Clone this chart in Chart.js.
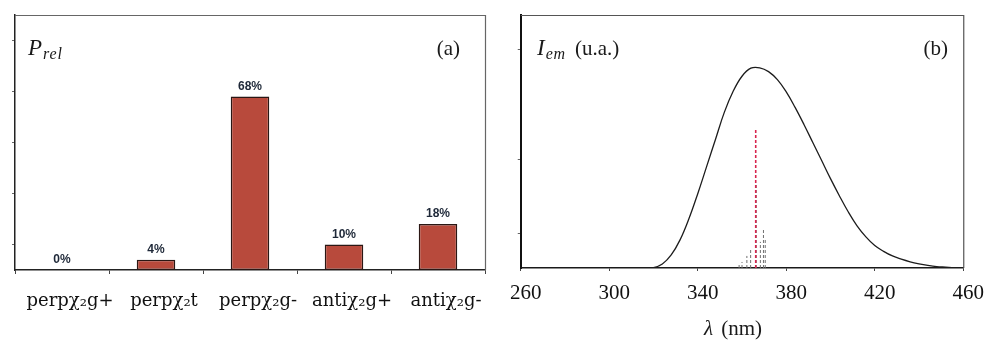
<!DOCTYPE html>
<html>
<head>
<meta charset="utf-8">
<script src="https://cdn.jsdelivr.net/npm/chart.js@4.4.0/dist/chart.umd.min.js"></script>
<style>
  html, body { margin: 0; padding: 0; background: #fff; }
  #wrap { position: relative; width: 989px; height: 340px; overflow: hidden; }
  #cA { position: absolute; left: 0; top: 0; }
  #cB { position: absolute; left: 495px; top: 0; }
</style>
</head>
<body>
<div id="wrap">
  <canvas id="cA" width="495" height="340"></canvas>
  <canvas id="cB" width="494" height="340"></canvas>
</div>
<script>
// (a) relative population of each conformer, in %
const conformers = ['perpχ₂g+', 'perpχ₂t', 'perpχ₂g-', 'antiχ₂g+', 'antiχ₂g-'];
const populations = [0, 4, 68, 10, 18];
const popTicks = [10, 30, 50, 70, 90];

// (b) emission band: wavelength (nm) and intensity (arbitrary units, peak = 1)
const wavelengths = [304, 308, 312, 316, 320, 324, 328, 332, 336, 340, 344, 348, 352, 356, 360, 364,
                     368, 372, 376, 380, 384, 388, 392, 396, 400, 404, 408, 412, 416, 420, 424,
                     428, 432, 436, 440, 444, 448, 452, 456, 460];
const intensity = [0, 0, 0, 0, 0.002, 0.02, 0.065, 0.14, 0.245, 0.37, 0.505, 0.64, 0.775, 0.88, 0.955, 0.995,
                   0.997, 0.978, 0.938, 0.877, 0.80, 0.715, 0.625, 0.535, 0.445, 0.36, 0.28, 0.21, 0.155, 0.112, 0.083,
                   0.06, 0.044, 0.031, 0.021, 0.013, 0.007, 0.004, 0.001, 0];
// computed transitions (stick spectrum); the first one is the dominant conformer
const stickWl = [366.2, 366.4, 370.5, 369.7, 368.3, 363.9, 362.2, 360.0, 358.7];
const stickHeight = [0.69, 0.42, 0.14, 0.19, 0.13, 0.09, 0.06, 0.03, 0.015];
const intensityTicks = [0.174, 0.542, 1.09];

const SERIF = '"Liberation Serif", "DejaVu Serif", serif';

// draws the top and right edges of the plot box
function framePlugin(color) {
  return {
    id: 'frame',
    afterDraw(chart) {
      const { ctx, chartArea: a } = chart;
      ctx.save();
      ctx.strokeStyle = color;
      ctx.lineWidth = 1.2;
      ctx.beginPath();
      ctx.moveTo(a.left, a.top + 0.5);
      ctx.lineTo(a.right + 0.5, a.top + 0.5);
      ctx.lineTo(a.right + 0.5, a.bottom);
      ctx.stroke();
      ctx.restore();
    }
  };
}

// quantity name with italic symbol and subscript, plus panel letter
function panelText(symbol, sub, rest, letter, x, letterRight) {
  return {
    id: 'panelText',
    afterDraw(chart) {
      const ctx = chart.ctx;
      ctx.save();
      ctx.fillStyle = '#1a1a1a';
      ctx.textBaseline = 'alphabetic';
      ctx.textAlign = 'left';
      ctx.font = 'italic 23px ' + SERIF;
      ctx.fillText(symbol, x, 55);
      let cx = x + ctx.measureText(symbol).width + 1;
      ctx.font = 'italic 16px ' + SERIF;
      ctx.letterSpacing = '0.8px';
      ctx.fillText(sub, cx, 59);
      cx += ctx.measureText(sub).width;
      ctx.letterSpacing = '0px';
      if (rest) {
        ctx.font = '21px ' + SERIF;
        ctx.fillText(rest, cx + 9, 55);
      }
      ctx.font = '21px ' + SERIF;
      ctx.textAlign = 'right';
      ctx.fillText(letter, letterRight, 55);
      ctx.restore();
    }
  };
}

// percentage printed above each bar
const barValueLabels = {
  id: 'barValueLabels',
  afterDatasetsDraw(chart) {
    const ctx = chart.ctx;
    const meta = chart.getDatasetMeta(0);
    ctx.save();
    ctx.font = 'bold 12px "Liberation Sans", Arial, sans-serif';
    ctx.fillStyle = '#1e2838';
    ctx.textAlign = 'center';
    ctx.textBaseline = 'alphabetic';
    meta.data.forEach((bar, i) => {
      ctx.fillText(populations[i] + '%', bar.x, bar.y - 7);
    });
    ctx.restore();
  }
};

// x-axis title with italic lambda
const lambdaTitle = {
  id: 'lambdaTitle',
  afterDraw(chart) {
    const ctx = chart.ctx;
    const cx = 238, y = 335;
    ctx.save();
    ctx.fillStyle = '#1a1a1a';
    ctx.textBaseline = 'alphabetic';
    ctx.textAlign = 'left';
    ctx.font = 'italic 21px ' + SERIF;
    const w1 = ctx.measureText('λ').width;
    ctx.font = '21px ' + SERIF;
    const w2 = ctx.measureText(' (nm)').width + 3;
    let x = cx - (w1 + w2) / 2;
    ctx.font = 'italic 21px ' + SERIF;
    ctx.fillText('λ', x, y);
    ctx.font = '21px ' + SERIF;
    ctx.fillText(' (nm)', x + w1 + 3, y);
    ctx.restore();
  }
};

Chart.defaults.animation = false;

new Chart(document.getElementById('cA'), {
  type: 'bar',
  data: {
    labels: conformers,
    datasets: [{
      data: populations,
      backgroundColor: '#b84a3c',
      borderColor: '#2a1714',
      borderWidth: 1.5,
      borderSkipped: false,
      categoryPercentage: 1.0,
      barPercentage: 0.41
    }]
  },
  options: {
    responsive: false,
    devicePixelRatio: 1,
    layout: { padding: { left: 0, right: 10, top: 15, bottom: 0 } },
    plugins: { legend: { display: false }, tooltip: { enabled: false } },
    scales: {
      x: {
        offset: true,
        grid: { drawOnChartArea: false, offset: true, tickLength: 4, color: '#444' },
        border: { color: '#222', width: 1.5 },
        ticks: {
          font: { family: 'DejaVu Serif', size: 18 },
          color: '#111',
          padding: 17,
          labelOffset: 8,
          maxRotation: 0,
          autoSkip: false
        },
        afterFit(s) { s.height = 70; }
      },
      y: {
        min: 0,
        max: 100,
        afterBuildTicks(s) { s.ticks = popTicks.map(v => ({ value: v })); },
        ticks: { display: false },
        grid: { drawOnChartArea: false, tickLength: 3, color: '#666' },
        border: { color: '#222', width: 1.5 },
        afterFit(s) { s.width = 15; }
      }
    }
  },
  plugins: [barValueLabels, framePlugin('#666'), panelText('P', 'rel', '', '(a)', 28, 460)]
});

const stickSets = stickWl.map((wl, i) => ({
  type: 'line',
  data: [{ x: wl, y: 0 }, { x: wl, y: stickHeight[i] }],
  borderColor: i === 0 ? '#d8244e' : '#707070',
  borderWidth: i === 0 ? 1.6 : 1,
  borderDash: [3, 2],
  pointRadius: 0
}));

new Chart(document.getElementById('cB'), {
  type: 'line',
  data: {
    datasets: [{
      data: wavelengths.map((w, i) => ({ x: w, y: intensity[i] })),
      borderColor: '#1c1c1c',
      borderWidth: 1.3,
      pointRadius: 0,
      tension: 0.4
    }].concat(stickSets)
  },
  options: {
    responsive: false,
    devicePixelRatio: 1,
    layout: { padding: { left: 0, right: 25, top: 15, bottom: 0 } },
    plugins: { legend: { display: false }, tooltip: { enabled: false } },
    scales: {
      x: {
        type: 'linear',
        min: 260,
        max: 460,
        ticks: {
          stepSize: 40,
          font: { family: 'Liberation Serif', size: 21 },
          color: '#111',
          padding: 10,
          labelOffset: 5,
          maxRotation: 0
        },
        grid: { drawOnChartArea: false, tickLength: 3, color: '#444' },
        border: { color: '#1a1a1a', width: 1.5 },
        afterFit(s) { s.height = 72; }
      },
      y: {
        min: 0,
        max: 1.26,
        afterBuildTicks(s) { s.ticks = intensityTicks.map(v => ({ value: v })); },
        ticks: { display: false },
        grid: { drawOnChartArea: false, tickLength: 3, color: '#666' },
        border: { color: '#111', width: 2 },
        afterFit(s) { s.width = 17; }
      }
    }
  },
  plugins: [framePlugin('#555'), lambdaTitle, panelText('I', 'em', '(u.a.)', '(b)', 42, 453)]
});
</script>
</body>
</html>
